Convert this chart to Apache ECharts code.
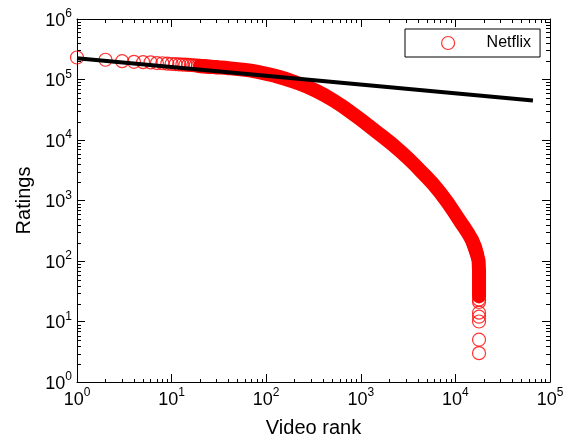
<!DOCTYPE html>
<html><head><meta charset="utf-8">
<script src="https://cdn.jsdelivr.net/npm/echarts@6/dist/echarts.min.js"></script>
<style>html,body{margin:0;padding:0;background:#fff}#c{width:572px;height:443px}</style>
</head><body><div id="c"></div>
<script>
// Discrete top-ranked titles (rank, number of ratings)
const topRanks = [1,2,3,4,5,6,7,8,9,10,11,12,13,14,15,16,17,18,19,20,21,22,23,24,25,26,27,28,29,30];
const topRatings = [231000,212000,201000,196000,193500,192000,187000,185500,183000,180500,179000,177500,176500,175500,174500,173500,172000,170500,169000,168000,167000,166200,165000,164000,163000,162400,161500,160800,160000,159200];
// Dense part of the curve (read as a band)
const bandRanks = [20,30,40,60,76,124,200,330,533,870,1320,2600,4230,6870,11200,15000,16900];
const bandRatings = [166000,159000,154000,144000,136000,115000,91000,66000,43400,25500,15500,6600,3150,1365,454,220,130];
// Bend at the last rank, down to the least-rated titles
const dropRanks = [15000,16900,17600,17770,17770];
const dropRatings = [220,130,100,70,26];
// Least-rated titles (all at the last rank)
const tailRanks = [17770,17770,17770,17770,17770,17770,17770];
const tailRatings = [23,21,14,12,10,5,3];
// Power-law fit line
const fitRanks = [1, 66000];
const fitRatings = [225000, 45000];
// Axis ticks
const xMajor = [1,10,100,1000,10000,100000];
const yMajor = [1,10,100,1000,10000,100000,1000000];
const xMinor = [2,3,4,5,6,7,8,9,20,30,40,50,60,70,80,90,200,300,400,500,600,700,800,900,2000,3000,4000,5000,6000,7000,8000,9000,20000,30000,40000,50000,60000,70000,80000,90000];
const yMinor = xMinor.concat([200000,300000,400000,500000,600000,700000,800000,900000]);

const FONT = "'Liberation Sans', Arial, sans-serif";
const RED = '#ff0000';
const zip = (a, b) => a.map((v, i) => [v, b[i]]);
const supFmt = v => '{b|10}{s|' + Math.round(Math.log10(v)) + '}';
const rich = {
  b: {fontSize: 18, fontFamily: FONT, color: '#000', lineHeight: 22, verticalAlign: 'bottom'},
  s: {fontSize: 12, fontFamily: FONT, color: '#000', lineHeight: 22, verticalAlign: 'top'}
};
const gridBox = {left: 77, right: 22, top: 19, bottom: 60, containLabel: false};

function xAx(grid, pos, ticks, len, labels, line) {
  const o = {
    type: 'log', logBase: 10, min: 1, max: 100000, gridIndex: grid, position: pos,
    axisLine: {show: line, lineStyle: {color: '#000', width: 1}},
    axisTick: {show: true, inside: true, length: len, customValues: ticks, lineStyle: {color: '#000', width: 1}},
    axisLabel: labels ? {show: true, customValues: xMajor, formatter: supFmt, rich: rich, margin: 5} : {show: false},
    splitLine: {show: false}
  };
  if (labels) {
    o.name = 'Video rank'; o.nameLocation = 'middle'; o.nameGap = 36;
    o.nameTextStyle = {fontSize: 20, fontFamily: FONT, color: '#000'};
  }
  return o;
}
function yAx(grid, pos, ticks, len, labels, line) {
  const o = {
    type: 'log', logBase: 10, min: 1, max: 1000000, gridIndex: grid, position: pos,
    axisLine: {show: line, lineStyle: {color: '#000', width: 1}},
    axisTick: {show: true, inside: true, length: len, customValues: ticks, lineStyle: {color: '#000', width: 1}},
    axisLabel: labels ? {show: true, customValues: yMajor, formatter: supFmt, rich: rich, margin: 5} : {show: false},
    splitLine: {show: false}
  };
  if (labels) {
    o.name = 'Ratings'; o.nameLocation = 'middle'; o.nameGap = 42; o.nameRotate = 90;
    o.nameTextStyle = {fontSize: 20, fontFamily: FONT, color: '#000'};
  }
  return o;
}

const bandStyle = {color: RED, width: 14, cap: 'round', join: 'round'};
const circleStyle = {color: 'rgba(0,0,0,0)', borderColor: RED, borderWidth: 1.2};

const chart = echarts.init(document.getElementById('c'), null, {renderer: 'canvas'});
chart.setOption({
  animation: false,
  backgroundColor: '#fff',
  grid: [gridBox, Object.assign({}, gridBox)],
  xAxis: [
    xAx(0, 'bottom', xMajor, 8, true, true),
    xAx(0, 'top', xMajor, 8, false, true),
    xAx(1, 'bottom', xMinor, 4, false, false),
    xAx(1, 'top', xMinor, 4, false, false)
  ],
  yAxis: [
    yAx(0, 'left', yMajor, 8, true, true),
    yAx(0, 'right', yMajor, 8, false, true),
    yAx(1, 'left', yMinor, 4, false, false),
    yAx(1, 'right', yMinor, 4, false, false)
  ],
  legend: {
    left: 405, top: 29,
    padding: [6, 9, 6, 36],
    borderColor: '#000', borderWidth: 1, borderRadius: 0,
    backgroundColor: '#fff',
    itemWidth: 13, itemHeight: 13,
    selectedMode: false,
    textStyle: {fontSize: 16, fontFamily: FONT, color: '#000', padding: [0, 0, 0, 27]},
    data: [{name: 'Netflix', icon: 'circle', itemStyle: circleStyle}]
  },
  series: [
    {
      name: 'Netflix', type: 'scatter', xAxisIndex: 0, yAxisIndex: 0,
      symbol: 'circle', symbolSize: 13, itemStyle: circleStyle,
      data: zip(topRanks, topRatings), z: 2
    },
    {
      name: 'band', type: 'line', xAxisIndex: 0, yAxisIndex: 0,
      showSymbol: false, symbol: 'none', smooth: 0.5,
      lineStyle: bandStyle, data: zip(bandRanks, bandRatings), z: 2
    },
    {
      name: 'drop', type: 'line', xAxisIndex: 0, yAxisIndex: 0,
      showSymbol: false, symbol: 'none', smooth: false,
      lineStyle: bandStyle, data: zip(dropRanks, dropRatings), z: 2
    },
    {
      name: 'Netflix', type: 'scatter', xAxisIndex: 0, yAxisIndex: 0,
      symbol: 'circle', symbolSize: 13, itemStyle: circleStyle,
      data: zip(tailRanks, tailRatings), z: 2
    },
    {
      name: 'fit', type: 'line', xAxisIndex: 0, yAxisIndex: 0,
      showSymbol: false, symbol: 'none',
      lineStyle: {color: '#000', width: 4},
      data: zip(fitRanks, fitRatings), z: 3
    }
  ]
});
</script></body></html>
